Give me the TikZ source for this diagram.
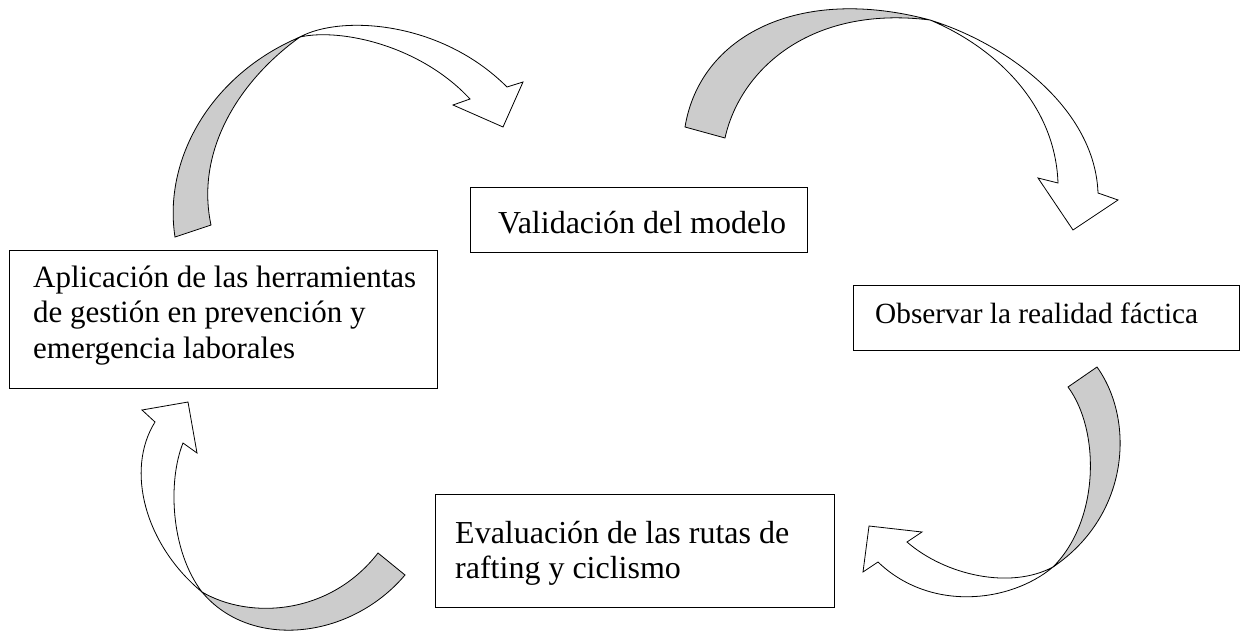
\documentclass[tikz,border=0pt]{standalone}
\usepackage{fontspec}
\setmainfont{Liberation Serif}
\begin{document}
\begin{tikzpicture}[x=1pt,y=-1pt,
  box/.style={draw=black,line width=1pt,rectangle,inner sep=0pt,anchor=north west},
  txt/.style={inner sep=0pt,anchor=base west,align=left,font=\fontsize{32}{35.5}\selectfont},
  backpart/.style={draw=black,line width=0.8pt,fill=gray!40,line join=miter},
  frontpart/.style={draw=black,line width=0.8pt,fill=white,line join=miter}]
\useasboundingbox (0,0) rectangle (1244,632);
% boxes
\node[box,minimum width=428pt,minimum height=138pt] (apl) at (9,250) {};
\node[box,minimum width=337pt,minimum height=65pt] (val) at (470,187) {};
\node[box,minimum width=386pt,minimum height=65pt] (obs) at (853,285) {};
\node[box,minimum width=399pt,minimum height=113pt] (eva) at (435,494) {};
% texts (anchor = baseline of the last line)
\node[txt,font=\fontsize{31}{35.5}\selectfont] (aplt) at (33,358) {Aplicación de las herramientas\\de gestión en prevención y\\emergencia laborales};
\node[txt] (valt) at (498,233) {Validación del modelo};
\node[txt,font=\fontsize{29.3}{33}\selectfont] (obst) at (875,323) {Observar la realidad fáctica};
\node[txt,font=\fontsize{32}{35}\selectfont] (evat) at (455,578) {Evaluación de las rutas de\\rafting y ciclismo};
% arrow 1 (top left)
\draw[backpart] (175,237) .. controls (163,160) and (210,75) .. (300,37)
  .. controls (240,80) and (195,150) .. (211,225) -- cycle;
\draw[frontpart] (300,37) .. controls (340,15) and (440,20) .. (507,87)
  -- (523,82) -- (503,127) -- (453,105) -- (470,99)
  .. controls (420,45) and (340,28) .. (300,37) -- cycle;
% arrow 2 (top right)
\draw[backpart] (685,127) .. controls (700,35) and (800,-15) .. (930,20)
  .. controls (810,5) and (740,70) .. (725,138) -- cycle;
\draw[frontpart] (930,20) .. controls (1010,45) and (1095,110) .. (1098,193)
  -- (1118,200) -- (1073,230) -- (1038,178) -- (1058,183)
  .. controls (1055,100) and (990,45) .. (930,20) -- cycle;
% arrow 3 (bottom right)
\draw[backpart] (1068,387) -- (1097,367) .. controls (1135,420) and (1130,515) .. (1053,567)
  .. controls (1100,520) and (1100,430) .. (1068,387) -- cycle;
\draw[frontpart] (1053,567) .. controls (1010,603) and (930,612) .. (878,562)
  -- (863,572) -- (869,526) -- (922,532) -- (907,542)
  .. controls (945,575) and (1010,590) .. (1053,567) -- cycle;
% arrow 4 (bottom left)
\draw[backpart] (378,553) -- (405,575) .. controls (350,640) and (250,650) .. (202,592)
  .. controls (250,620) and (330,615) .. (378,553) -- cycle;
\draw[frontpart] (202,592) .. controls (145,545) and (125,470) .. (155,422)
  -- (142,410) -- (188,402) -- (197,453) -- (183,443)
  .. controls (168,480) and (170,550) .. (202,592) -- cycle;
\end{tikzpicture}
\end{document}
